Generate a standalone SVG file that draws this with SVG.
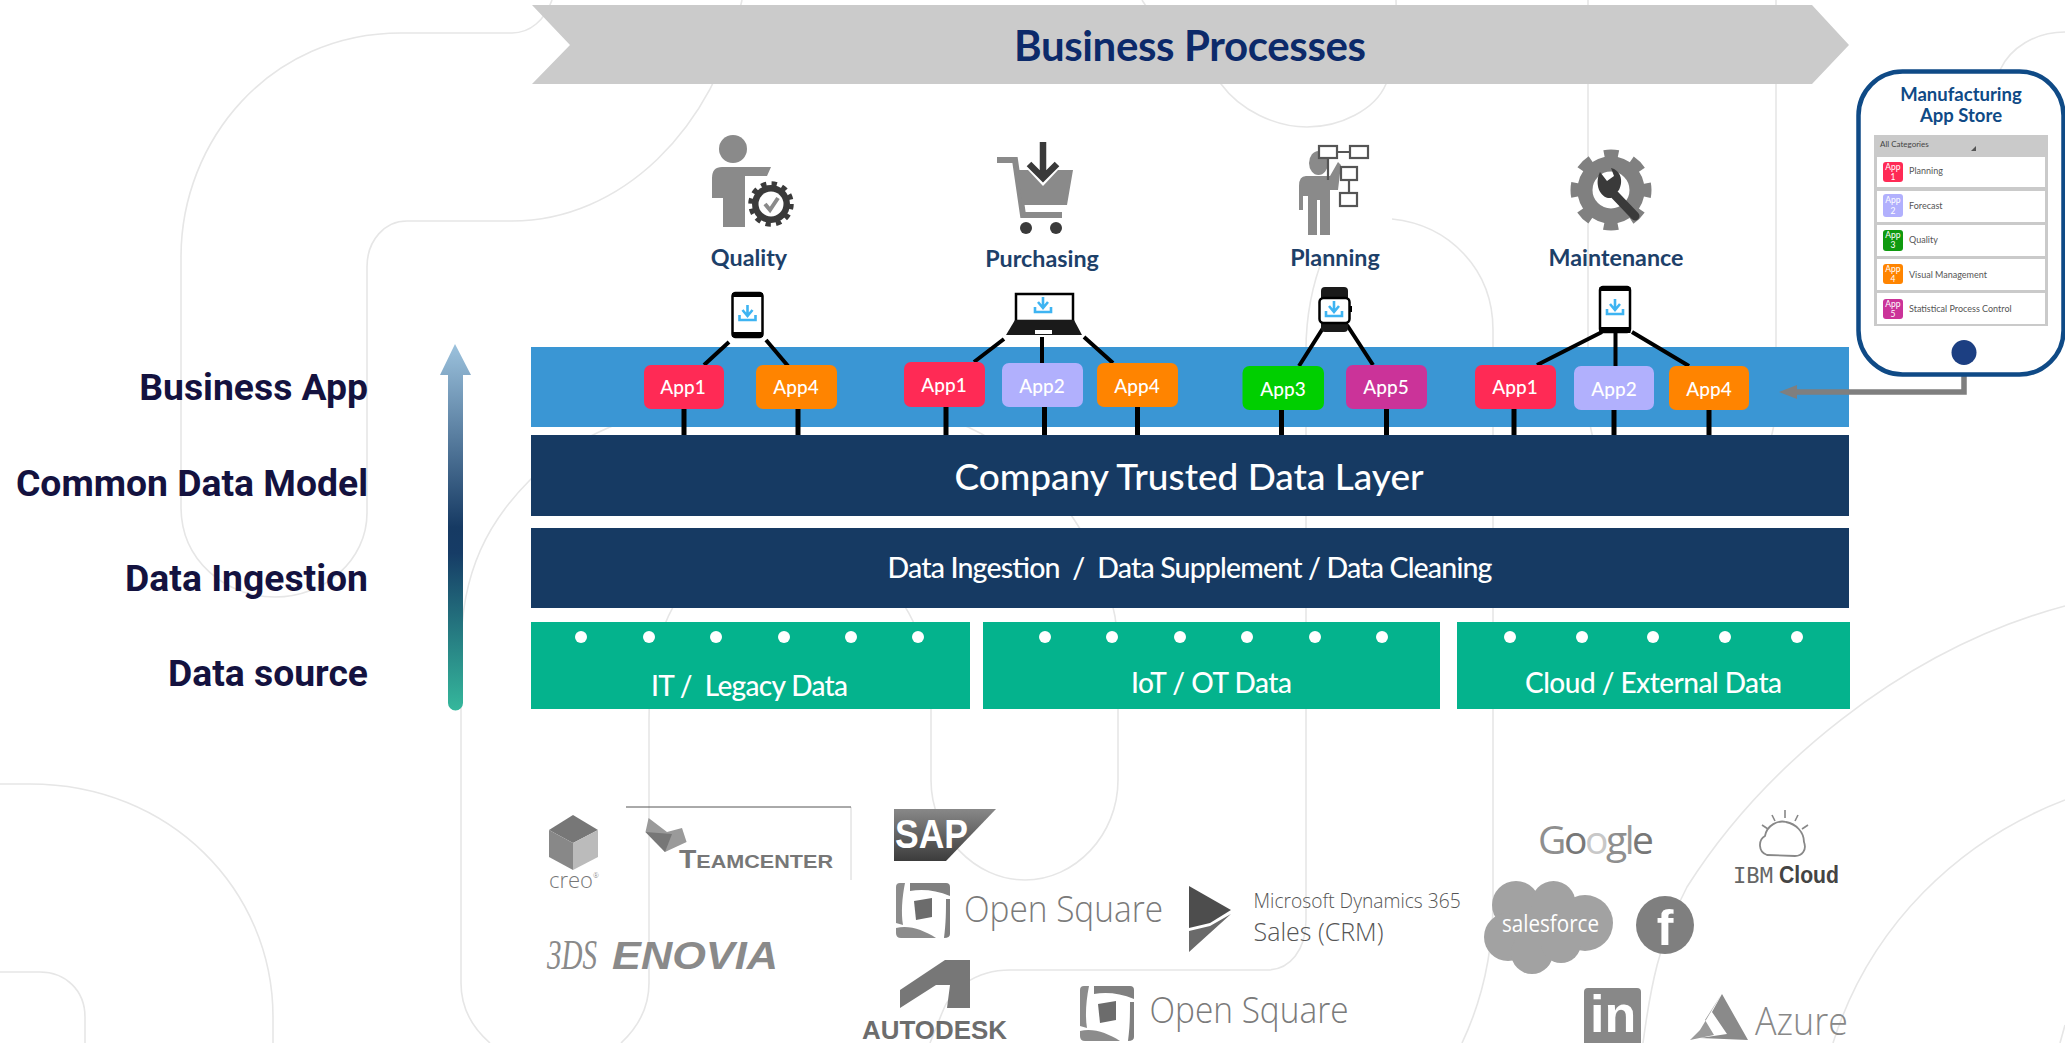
<svg xmlns="http://www.w3.org/2000/svg" width="2065" height="1043" viewBox="0 0 2065 1043">
<style>
.bg{fill:none;stroke:#e6e6e6;stroke-width:1.6}
.lato{font-family:"Lato","Liberation Sans",sans-serif}
.lbl{font-family:"Roboto","Liberation Sans",sans-serif;font-weight:700;font-size:37.3px;fill:#14123f;text-anchor:end}
.bar{font-family:"Lato","Liberation Sans",sans-serif;fill:#fff;text-anchor:middle;font-weight:500}
.proc{font-family:"Lato","Liberation Sans",sans-serif;font-weight:700;font-size:23.3px;fill:#1d4069;text-anchor:middle}
.app{font-family:"Lato","Liberation Sans",sans-serif;font-size:19px;font-weight:500;fill:#fff;text-anchor:middle}
.dot{fill:#fff}
.green{fill:#04b38d}
.dark{fill:#163a63}
.conn{stroke:#000;stroke-width:4;fill:none}
.stub{stroke:#000;stroke-width:5;fill:none}
.os{font-family:"Open Sans","Liberation Sans",sans-serif;font-weight:300;font-size:36px;fill:#7a7a7a}
.row{fill:#fff}
.rowt{font-family:"Lato","Liberation Sans",sans-serif;font-size:9px;fill:#555}
.tile{font-family:"Lato","Liberation Sans",sans-serif;font-size:8.5px;fill:#fff;text-anchor:middle}
.gi{fill:#8a8a8a}
.gd{fill:#3a3a3a}
.dev{fill:#fff;stroke:#000;stroke-width:2.5}
</style>
<defs>
<linearGradient id="upg" gradientUnits="userSpaceOnUse" x1="0" y1="344" x2="0" y2="711">
<stop offset="0" stop-color="#9cc2dd"/><stop offset="0.5" stop-color="#163a63"/><stop offset="0.57" stop-color="#163c66"/><stop offset="1" stop-color="#35b89c"/>
</linearGradient>
<linearGradient id="sapg" x1="0" y1="0" x2="0" y2="1"><stop offset="0" stop-color="#888"/><stop offset="1" stop-color="#3c3c3c"/></linearGradient>
<g id="dl"><path d="M0 -8V2M-5 -3L0 3L5 -3" fill="none" stroke="#3eb4f2" stroke-width="2.6"/><path d="M-8 2V7H8V2" fill="none" stroke="#3eb4f2" stroke-width="2.6"/></g>
<g id="osq">
<path d="M14 0H50Q54 0 54 4V13C40 7 26 6 14 8Z" fill="#808080"/>
<path d="M0 4Q0 0 4 0H9C6 15 5 30 7 42L0 40Z" fill="#8c8c8c"/>
<path d="M50 16H54V51Q54 55 48 55C50 40 50 28 50 16Z" fill="#808080"/>
<path d="M0 45C14 42 27 47 40 55H5Q0 55 0 50Z" fill="#8c8c8c"/>
<path d="M18 18L36 15V34L20 37Z" fill="#6c6c6c"/>
</g>
</defs>
<rect width="2065" height="1043" fill="#fff"/>

<g id="background-lines">
<path class="bg" d="M552 0C545 20 530 33 512 33H401C270 33 181 140 181 257V507C181 560 225 597 275 597C325 597 367 560 367 513V267C367 240 385 221 407 221H512C620 221 715 130 742 0"/>
<path class="bg" d="M1142 0C1160 30 1200 60 1221 84C1240 110 1275 127 1307 127C1340 127 1375 110 1386 84C1395 60 1397 30 1396 0"/>
<path class="bg" d="M1588 0V400C1588 420 1592 435 1596 450M1776 0V400C1776 420 1772 435 1768 450"/>
<path class="bg" d="M1392 219C1450 225 1493 270 1493 330V900C1493 960 1480 1005 1462 1043"/>
<path class="bg" d="M1324 255C1312 285 1306 320 1306 350V920C1306 950 1290 970 1267 970H1010C975 970 950 990 942 1013L930 1043"/>
<path class="bg" d="M530 480C490 520 461 570 461 650V983C461 1010 475 1030 490 1043"/>
<path class="bg" d="M530 480C555 455 580 440 610 427C720 380 860 380 968 427C1050 465 1118 560 1118 650V780C1118 835 1075 880 1025 880C975 880 931 835 931 780V700C931 640 900 590 880 580H700C675 590 649 640 649 720V983C649 1010 635 1030 621 1043"/>
<path class="bg" d="M0 784H30C170 784 273 890 273 1017V1043"/>
<path class="bg" d="M0 972H40C65 972 85 990 85 1017V1043"/>
<path class="bg" d="M2065 606C1900 650 1761 770 1687 887C1659 940 1650 990 1643 1043"/>
<path class="bg" d="M2065 800C1960 840 1870 925 1833 1043"/>
<path class="bg" d="M2065 32C2035 32 2010 48 2000 70"/>
<path class="bg" d="M2065 1025L2060 1043"/>
</g>

<g id="business-processes">
<polygon points="532,5 1812,5 1849,45 1812,84 532,84 570,45" fill="#cbcbcb"/>
<text class="lato" x="1014" y="61" font-size="42" font-weight="700" fill="#0c2a6a" textLength="352">Business Processes</text>
</g>

<g id="process-quality">
<ellipse class="gi" cx="733" cy="149" rx="14" ry="14"/>
<path class="gi" d="M722 167H771L767 176H745V227H723V198H712V178Q712 167 722 167Z"/>
<circle cx="771" cy="204" r="19" class="gd"/>
<circle cx="771" cy="204" r="20.5" fill="none" stroke="#3a3a3a" stroke-width="4.5" stroke-dasharray="5.4 5.33"/>
<circle cx="771" cy="204" r="12.5" fill="#fff"/>
<path d="M765 204L770 210L778 198" fill="none" stroke="#8a8a8a" stroke-width="4"/>
<text class="proc" x="749" y="266">Quality</text>
</g>

<g id="process-purchasing">
<path d="M997 160H1015L1023 215H1062" fill="none" stroke="#8a8a8a" stroke-width="6"/>
<polygon class="gi" points="1018,170 1028,170 1043,186 1058,170 1073,170 1067,205 1022,205"/>
<circle class="gd" cx="1026" cy="228" r="6"/><circle class="gd" cx="1056" cy="228" r="6"/>
<path d="M1043 142V176M1029 164L1043 178L1057 164" fill="none" stroke="#3a3a3a" stroke-width="6.5"/>
<text class="proc" x="1042" y="267">Purchasing</text>
</g>

<g id="process-planning">
<ellipse class="gi" cx="1318.5" cy="163" rx="9.5" ry="12"/>
<path class="gi" d="M1306 176H1330L1338 162L1341 165L1338 190H1330V235H1320V200H1317V235H1308V196H1303V210H1299V186Q1299 176 1306 176Z"/>
<g fill="#fff" stroke="#555" stroke-width="2.2">
<rect x="1319" y="146" width="18" height="12"/><rect x="1350" y="146" width="18" height="12"/><rect x="1341" y="167" width="16" height="13"/><rect x="1340" y="193" width="17" height="13"/>
</g>
<path d="M1337 152H1350M1349 180V193M1328 158V180" fill="none" stroke="#555" stroke-width="2.2"/>
<text class="proc" x="1335" y="266">Planning</text>
</g>

<g id="process-maintenance">
<circle cx="1611" cy="190" r="26" fill="none" stroke="#808080" stroke-width="15"/>
<circle cx="1611" cy="190" r="36.5" fill="none" stroke="#808080" stroke-width="8" stroke-dasharray="14.33 14.33" stroke-dashoffset="7.16"/>
<path d="M1612 192L1635 216" stroke="#3a3a3a" stroke-width="9" stroke-linecap="round"/>
<path d="M1600 172L1607 181L1614 176L1611 168C1620 170 1624 180 1619 190L1611 198C1600 199 1594 184 1600 172Z" fill="#3a3a3a"/>
<text class="proc" x="1616" y="266">Maintenance</text>
</g>

<g id="business-app-band"><rect x="531" y="347" width="1318" height="80" fill="#3a96d4"/></g>
<g id="data-layer"><rect class="dark" x="531" y="435" width="1318" height="81"/>
<text class="bar" x="1189" y="490" font-size="37">Company Trusted Data Layer</text></g>
<g id="data-ingestion"><rect class="dark" x="531" y="528" width="1318" height="80"/>
<text class="bar" x="1190" y="578" font-size="28.5" textLength="605">Data Ingestion&#160;&#160;/&#160;&#160;Data Supplement / Data Cleaning</text></g>

<g id="it-legacy"><rect class="green" x="531" y="622" width="439" height="87"/>
<circle class="dot" cx="581" cy="637" r="6"/><circle class="dot" cx="649" cy="637" r="6"/><circle class="dot" cx="716" cy="637" r="6"/><circle class="dot" cx="784" cy="637" r="6"/><circle class="dot" cx="851" cy="637" r="6"/><circle class="dot" cx="918" cy="637" r="6"/>
<text class="bar" x="749.5" y="696" font-size="28" textLength="197">IT /&#160;&#160;Legacy Data</text></g>
<g id="iot-ot"><rect class="green" x="983" y="622" width="457" height="87"/>
<circle class="dot" cx="1045" cy="637" r="6"/><circle class="dot" cx="1112" cy="637" r="6"/><circle class="dot" cx="1180" cy="637" r="6"/><circle class="dot" cx="1247" cy="637" r="6"/><circle class="dot" cx="1315" cy="637" r="6"/><circle class="dot" cx="1382" cy="637" r="6"/>
<text class="bar" x="1211.5" y="693" font-size="28" textLength="161">IoT / OT Data</text></g>
<g id="cloud-external"><rect class="green" x="1457" y="622" width="393" height="87"/>
<circle class="dot" cx="1510" cy="637" r="6"/><circle class="dot" cx="1582" cy="637" r="6"/><circle class="dot" cx="1653" cy="637" r="6"/><circle class="dot" cx="1725" cy="637" r="6"/><circle class="dot" cx="1797" cy="637" r="6"/>
<text class="bar" x="1653.5" y="693" font-size="28" textLength="257">Cloud / External Data</text></g>

<g id="connectors">
<path class="conn" d="M729 342L704 365M766 340L788 366M1004 339L974 362M1042 337V363M1084 337L1113 363M1325 325L1299 366M1347 325L1373 365M1602 332L1537 365M1615.5 332V366M1632 332L1689 366"/>
<path class="stub" d="M684 409V435M798 409V435M946 407V435M1044.5 407V435M1137.5 407V435M1281.5 410V435M1386.5 409V435M1514 409V435M1614 410V435M1709 410V435"/>
<path d="M1964 375V392H1794" fill="none" stroke="#7f7f7f" stroke-width="5.5"/>
<polygon points="1779,392 1797,385 1797,399" fill="#7f7f7f"/>
<path d="M455 344L471 375H463V703A7.5 7.5 0 0 1 448 703V375H440Z" fill="url(#upg)"/>
</g>

<g id="app1-quality"><rect x="644" y="365" width="80" height="44" rx="7" fill="#ff2a55"/><text class="app" x="683" y="394">App1</text></g>
<g id="app4-quality"><rect x="756" y="365" width="81" height="44" rx="7" fill="#ff8400"/><text class="app" x="796" y="394">App4</text></g>
<g id="app1-purchasing"><rect x="904" y="362" width="81" height="45" rx="7" fill="#ff2a55"/><text class="app" x="944" y="392">App1</text></g>
<g id="app2-purchasing"><rect x="1002" y="363" width="81" height="44" rx="7" fill="#b1b0fd"/><text class="app" x="1042" y="393">App2</text></g>
<g id="app4-purchasing"><rect x="1097" y="363" width="81" height="44" rx="7" fill="#ff8400"/><text class="app" x="1137" y="393">App4</text></g>
<g id="app3-planning"><rect x="1242.5" y="366" width="81.5" height="44" rx="7" fill="#00cf00"/><text class="app" x="1283" y="396">App3</text></g>
<g id="app5-planning"><rect x="1346" y="365" width="81" height="44" rx="7" fill="#cb3399"/><text class="app" x="1386" y="394">App5</text></g>
<g id="app1-maintenance"><rect x="1475" y="365" width="81" height="44" rx="7" fill="#ff2a55"/><text class="app" x="1515" y="394">App1</text></g>
<g id="app2-maintenance"><rect x="1574" y="366" width="80" height="44" rx="7" fill="#b1b0fd"/><text class="app" x="1614" y="396">App2</text></g>
<g id="app4-maintenance"><rect x="1669" y="366" width="80" height="44" rx="7" fill="#ff8400"/><text class="app" x="1709" y="396">App4</text></g>

<g id="device-phone-quality">
<rect class="dev" x="732.5" y="293" width="30" height="44" rx="3"/><rect x="732" y="293" width="31" height="4" fill="#000"/><rect x="732" y="332" width="31" height="5" fill="#000"/>
<use href="#dl" x="747.5" y="313"/>
</g>
<g id="device-laptop">
<rect x="1016" y="294" width="57" height="27" fill="#fff" stroke="#000" stroke-width="2.5"/>
<polygon points="1015,320 1074,320 1082,335 1006,335" fill="#1a1a1a"/><rect x="1035" y="330" width="17" height="4" fill="#fff"/>
<use href="#dl" x="1043" y="305"/>
</g>
<g id="device-watch">
<rect x="1321" y="287" width="27" height="45" rx="4" fill="#1a1a1a"/>
<rect class="dev" x="1319.5" y="298" width="30" height="25" rx="4"/><rect x="1350" y="306" width="2" height="6" fill="#000"/>
<use href="#dl" x="1334" y="309"/>
</g>
<g id="device-phone-maintenance">
<rect class="dev" x="1600" y="287" width="30" height="45" rx="3"/><rect x="1599.5" y="287" width="31" height="4" fill="#000"/><rect x="1599.5" y="327" width="31" height="6" fill="#000"/>
<use href="#dl" x="1615" y="307"/>
</g>

<g id="app-store">
<rect x="1858.5" y="71.5" width="205" height="303" rx="44" fill="#fff" stroke="#0f4a86" stroke-width="4.5"/>
<text class="lato" x="1961" y="100.5" font-size="18.5" font-weight="700" fill="#0f4a86" text-anchor="middle">Manufacturing</text>
<text class="lato" x="1961" y="122" font-size="18.5" font-weight="700" fill="#0f4a86" text-anchor="middle">App Store</text>
<rect x="1874" y="135" width="174" height="191" fill="#cacaca"/>
<text class="lato" x="1880" y="147" font-size="8" fill="#444">All Categories</text>
<polygon points="1976,146 1976,151 1971,151" fill="#555"/>
<rect class="row" x="1877" y="157" width="168" height="30"/><rect class="row" x="1877" y="191" width="168" height="31"/><rect class="row" x="1877" y="225" width="168" height="31"/><rect class="row" x="1877" y="259" width="168" height="31"/><rect class="row" x="1877" y="293" width="168" height="31"/>
<rect x="1883" y="162" width="20" height="20" rx="3" fill="#ff2a55"/><text class="tile" x="1893" y="170">App</text><text class="tile" x="1893" y="180">1</text><text class="rowt" x="1909" y="174">Planning</text>
<rect x="1883" y="194" width="20" height="23" rx="3" fill="#b1b0fd"/><text class="tile" x="1893" y="203">App</text><text class="tile" x="1893" y="214">2</text><text class="rowt" x="1909" y="209">Forecast</text>
<rect x="1883" y="230" width="20" height="21" rx="3" fill="#0f9a0f"/><text class="tile" x="1893" y="238">App</text><text class="tile" x="1893" y="248">3</text><text class="rowt" x="1909" y="243">Quality</text>
<rect x="1883" y="264" width="20" height="20" rx="3" fill="#ff8400"/><text class="tile" x="1893" y="272">App</text><text class="tile" x="1893" y="282">4</text><text class="rowt" x="1909" y="278">Visual Management</text>
<rect x="1883" y="299" width="20" height="20" rx="3" fill="#cb3399"/><text class="tile" x="1893" y="307">App</text><text class="tile" x="1893" y="317">5</text><text class="rowt" x="1909" y="312">Statistical Process Control</text>
<circle cx="1964" cy="352.5" r="12.5" fill="#1c3f82"/>
</g>

<g id="layer-labels">
<text class="lbl" x="368" y="400">Business App</text>
<text class="lbl" x="368" y="496">Common Data Model</text>
<text class="lbl" x="368" y="591">Data Ingestion</text>
<text class="lbl" x="368" y="686">Data source</text>
</g>

<g id="logo-creo">
<polygon points="573,815 598,830 573,843 549,830" fill="#777"/><polygon points="549,830 573,843 573,870 549,857" fill="#888"/><polygon points="598,830 573,843 573,870 598,857" fill="#bbb"/>
<text x="549" y="888" font-family="Open Sans, sans-serif" font-weight="300" font-size="22" fill="#777">creo<tspan font-size="7" dy="-10">®</tspan></text>
</g>
<g id="logo-teamcenter">
<path d="M851 807V880" fill="none" stroke="#ccc" stroke-width="0.8"/><path d="M626 807H851" stroke="#555" stroke-width="1"/>
<polygon points="648.6,818 667,832 682,828 686.6,842 665,852 645.5,832" fill="#9a9a9a"/><polygon points="645.5,832 672,834 665,852" fill="#777"/>
<text x="679" y="868" font-family="Liberation Sans, sans-serif" font-weight="700" fill="#777" font-size="19" textLength="154" lengthAdjust="spacingAndGlyphs"><tspan font-size="25">T</tspan>EAMCENTER</text>
</g>
<g id="logo-sap">
<polygon points="894,809 996,809 946,861 894,861" fill="url(#sapg)"/>
<text x="895" y="848" font-family="Liberation Sans, sans-serif" font-weight="700" font-size="40" fill="#fff" textLength="73" lengthAdjust="spacingAndGlyphs">SAP</text>
</g>
<g id="logo-open-square-1"><use href="#osq" x="896" y="883"/><text class="os" x="964" y="922" textLength="199" lengthAdjust="spacingAndGlyphs">Open Square</text></g>
<g id="logo-open-square-2"><use href="#osq" x="1080" y="986"/><text class="os" x="1149.5" y="1023" textLength="199" lengthAdjust="spacingAndGlyphs">Open Square</text></g>
<g id="logo-dynamics">
<polygon points="1189,886 1231,910 1210,923 1189,928" fill="#4d4d4d"/><polygon points="1231,914 1189,952 1189,931 1210,926" fill="#6a6a6a"/>
<text x="1253.5" y="908" font-family="Open Sans, sans-serif" font-weight="300" font-size="19.2" fill="#555">Microsoft Dynamics 365</text>
<text x="1253.5" y="941" font-family="Open Sans, sans-serif" font-weight="300" font-size="25" fill="#555">Sales (CRM)</text>
</g>
<g id="logo-enovia">
<text x="547" y="969" font-family="Liberation Serif, serif" font-style="italic" font-size="42" fill="#8a8a8a" textLength="50" lengthAdjust="spacingAndGlyphs">3DS</text>
<text x="612" y="969" font-family="Liberation Sans, sans-serif" font-weight="700" font-style="italic" font-size="38" fill="#8a8a8a" textLength="166" lengthAdjust="spacingAndGlyphs">ENOVIA</text>
</g>
<g id="logo-autodesk">
<polygon points="970,960 970,1008 947,1008 950,985 936,985 900,1008 900,990 945,960" fill="#777"/>
<text x="862" y="1039" font-family="Liberation Sans, sans-serif" font-weight="700" font-size="25" fill="#6d6d6d" textLength="145" lengthAdjust="spacingAndGlyphs">AUTODESK</text>
</g>
<g id="logo-google" font-family="Open Sans, sans-serif" font-size="39">
<text x="1538" y="854" textLength="116"><tspan fill="#8f8f8f">G</tspan><tspan fill="#777">o</tspan><tspan fill="#c8c8c8">o</tspan><tspan fill="#8f8f8f">g</tspan><tspan fill="#999">l</tspan><tspan fill="#777">e</tspan></text>
</g>
<g id="logo-ibm-cloud">
<path d="M1767 855C1758 852 1758 840 1765 836C1767 825 1778 820 1786 822C1796 824 1804 832 1804 842C1807 850 1802 856 1795 856Z" fill="none" stroke="#888" stroke-width="1.8"/>
<path d="M1785 810V818M1772 815L1775 821M1798 815L1795 821M1762 825L1768 829M1808 825L1802 829" stroke="#888" stroke-width="1.6"/>
<text x="1733" y="883" font-family="DejaVu Sans Mono, Liberation Mono, monospace" font-size="22" fill="#666" textLength="40" lengthAdjust="spacingAndGlyphs">IBM</text>
<text x="1779" y="883" font-family="Liberation Sans, sans-serif" font-weight="700" font-size="24" fill="#444" textLength="60" lengthAdjust="spacingAndGlyphs">Cloud</text>
</g>
<g id="logo-salesforce">
<g fill="#a2a2a2"><circle cx="1516" cy="905" r="24"/><circle cx="1553.5" cy="903" r="22"/><circle cx="1585" cy="923" r="28"/><circle cx="1508" cy="937" r="24"/><circle cx="1532" cy="953" r="21"/><circle cx="1561" cy="943" r="20"/><rect x="1510" y="910" width="60" height="30"/></g>
<text x="1502" y="932" font-family="Open Sans, sans-serif" font-size="23" fill="#fff" textLength="97" lengthAdjust="spacingAndGlyphs">salesforce</text>
</g>
<g id="logo-facebook"><circle cx="1665" cy="925" r="29" fill="#7f7f7f"/><text x="1665" y="945" font-family="Liberation Sans, sans-serif" font-weight="700" font-size="50" fill="#fff" text-anchor="middle">f</text></g>
<g id="logo-linkedin"><rect x="1584" y="988" width="57" height="60" rx="4" fill="#888"/><text x="1590" y="1032" font-family="Liberation Sans, sans-serif" font-weight="700" font-size="52" fill="#fff">in</text></g>
<g id="logo-azure">
<polygon points="1721,995 1700,1030 1690,1040 1714,1035 1705,1020" fill="#9a9a9a"/><polygon points="1722,994 1748,1040 1700,1038 1727,1034 1712,1012" fill="#8a8a8a"/>
<text x="1755" y="1035" font-family="Open Sans, sans-serif" font-weight="300" font-size="39" fill="#888" textLength="93" lengthAdjust="spacingAndGlyphs">Azure</text>
</g>
</svg>
